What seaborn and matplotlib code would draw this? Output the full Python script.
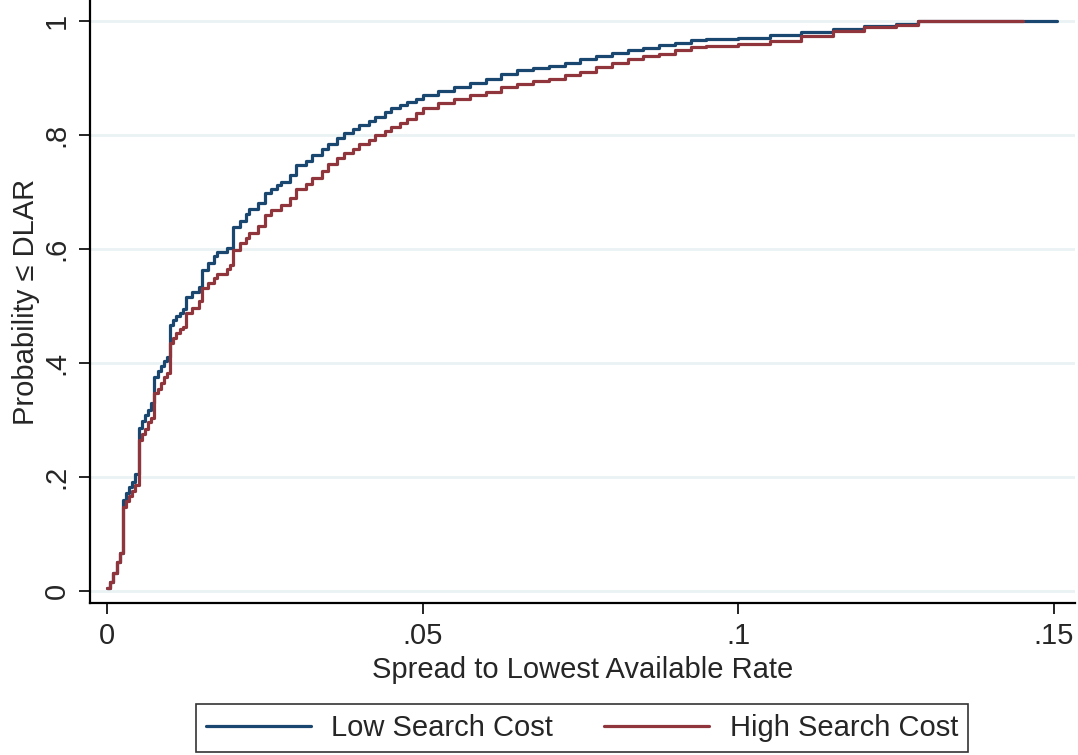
import matplotlib
matplotlib.use("Agg")
import matplotlib.pyplot as plt
import seaborn as sns
import pandas as pd

low_x = [0, 0.0005, 0.001, 0.0015, 0.002, 0.0025, 0.003, 0.0035, 0.004, 0.0045,
         0.005, 0.0055, 0.006, 0.0065, 0.007, 0.0075, 0.008, 0.0085, 0.009, 0.0095,
         0.01, 0.0105, 0.011, 0.0115, 0.012, 0.0125, 0.0135, 0.0145, 0.015, 0.016,
         0.017, 0.0175, 0.019, 0.02, 0.021, 0.022, 0.0225, 0.024, 0.025, 0.026,
         0.027, 0.0275, 0.029, 0.03, 0.0315, 0.0325, 0.034, 0.035, 0.0365, 0.0375,
         0.039, 0.04, 0.0415, 0.0425, 0.044, 0.045, 0.0465, 0.0475, 0.049, 0.05,
         0.0525, 0.055, 0.0575, 0.06, 0.0625, 0.065, 0.0675, 0.07, 0.0725, 0.075,
         0.0775, 0.08, 0.0825, 0.085, 0.0875, 0.09, 0.0925, 0.095, 0.1, 0.105,
         0.11, 0.115, 0.12, 0.125, 0.1285, 0.1506]
low_cdf = [0.005, 0.015, 0.031, 0.051, 0.066, 0.160, 0.172, 0.182, 0.192, 0.206,
           0.286, 0.298, 0.308, 0.318, 0.330, 0.376, 0.386, 0.394, 0.403, 0.411,
           0.467, 0.475, 0.482, 0.488, 0.495, 0.516, 0.525, 0.534, 0.563, 0.575,
           0.588, 0.595, 0.602, 0.639, 0.650, 0.662, 0.671, 0.680, 0.698, 0.705,
           0.712, 0.718, 0.730, 0.747, 0.755, 0.765, 0.775, 0.785, 0.794, 0.803,
           0.810, 0.818, 0.825, 0.832, 0.840, 0.847, 0.853, 0.858, 0.864, 0.871,
           0.877, 0.884, 0.891, 0.899, 0.907, 0.914, 0.918, 0.921, 0.927, 0.933,
           0.938, 0.944, 0.949, 0.953, 0.958, 0.962, 0.966, 0.968, 0.971, 0.976,
           0.981, 0.986, 0.991, 0.995, 1.0, 1.0]

high_x = [0, 0.0005, 0.001, 0.0015, 0.002, 0.0025, 0.003, 0.0035, 0.004, 0.0045,
          0.005, 0.0055, 0.006, 0.0065, 0.007, 0.0075, 0.008, 0.0085, 0.009, 0.0095,
          0.01, 0.0105, 0.011, 0.0115, 0.012, 0.0125, 0.0135, 0.0145, 0.015, 0.016,
          0.017, 0.0175, 0.019, 0.0195, 0.02, 0.021, 0.022, 0.0225, 0.024, 0.025,
          0.026, 0.0275, 0.029, 0.03, 0.0315, 0.0325, 0.034, 0.035, 0.0365, 0.0375,
          0.039, 0.04, 0.0415, 0.0425, 0.044, 0.045, 0.0465, 0.0475, 0.049, 0.05,
          0.0525, 0.055, 0.0575, 0.06, 0.0625, 0.065, 0.0675, 0.07, 0.0725, 0.075,
          0.0775, 0.08, 0.0825, 0.085, 0.0875, 0.09, 0.0925, 0.095, 0.1, 0.105,
          0.11, 0.115, 0.12, 0.125, 0.1285, 0.1452]
high_cdf = [0.005, 0.015, 0.031, 0.051, 0.066, 0.148, 0.158, 0.166, 0.175, 0.186,
            0.265, 0.275, 0.285, 0.296, 0.303, 0.347, 0.355, 0.365, 0.375, 0.382,
            0.435, 0.444, 0.452, 0.460, 0.464, 0.487, 0.496, 0.508, 0.531, 0.540,
            0.549, 0.557, 0.565, 0.572, 0.598, 0.610, 0.620, 0.628, 0.640, 0.660,
            0.668, 0.677, 0.690, 0.706, 0.714, 0.724, 0.737, 0.750, 0.759, 0.768,
            0.776, 0.784, 0.792, 0.800, 0.808, 0.815, 0.822, 0.829, 0.838, 0.847,
            0.857, 0.864, 0.870, 0.876, 0.885, 0.890, 0.895, 0.899, 0.905, 0.911,
            0.919, 0.927, 0.933, 0.938, 0.943, 0.949, 0.954, 0.957, 0.960, 0.965,
            0.974, 0.982, 0.989, 0.994, 1.0, 1.0]

series_names = ["Low Search Cost", "High Search Cost"]
series_colors = ["#1a476f", "#90353b"]

x_ticks = [0, 0.05, 0.1, 0.15]
x_tick_labels = ["0", ".05", ".1", ".15"]
y_ticks = [0, 0.2, 0.4, 0.6, 0.8, 1.0]
y_tick_labels = ["0", ".2", ".4", ".6", ".8", "1"]

df = pd.concat([
    pd.DataFrame({"spread": low_x, "cdf": low_cdf, "group": series_names[0]}),
    pd.DataFrame({"spread": high_x, "cdf": high_cdf, "group": series_names[1]}),
])

sns.set_style("white")
plt.rcParams['font.family'] = ['Liberation Sans', 'DejaVu Sans']
plt.rcParams['font.size'] = 21

fig = plt.figure(figsize=(10.78, 7.55), dpi=100)
ax = fig.add_axes([90 / 1078, 152 / 755, (1075 - 90) / 1078, 603 / 755])

for name, color in zip(series_names, series_colors):
    sub = df[df["group"] == name]
    sns.lineplot(data=sub, x="spread", y="cdf", color=color, linewidth=2.3,
                 drawstyle="steps-post", estimator=None, sort=False,
                 label=name, ax=ax, legend=False)

ax.set_xlim(-0.0027, 0.1534)
ax.set_ylim(-0.021, 1.037)
ax.set_xticks(x_ticks)
ax.set_xticklabels(x_tick_labels)
ax.set_yticks(y_ticks)
ax.set_yticklabels(y_tick_labels, rotation=90, va="center")

ax.grid(axis="y", color="#eaf2f3", linewidth=2)
ax.set_axisbelow(True)
for side in ["top", "right"]:
    ax.spines[side].set_visible(False)
for side in ["left", "bottom"]:
    ax.spines[side].set_color("black")
    ax.spines[side].set_linewidth(1.6)
ax.tick_params(axis="both", direction="out", length=8, width=1.2,
               color="black", labelsize=21, pad=6, left=True, bottom=True)

ax.set_xlabel("Spread to Lowest Available Rate", fontsize=21, labelpad=4)
ax.set_ylabel("Probability \u2264 DLAR", fontsize=21, labelpad=1.5)

handles, labels = ax.get_legend_handles_labels()
leg = fig.legend(handles, labels, loc="lower center", ncol=2,
                 bbox_to_anchor=(582 / 1078, -0.012), frameon=True, fancybox=False,
                 fontsize=21, handlelength=3.6, handletextpad=0.7,
                 columnspacing=1.75, borderpad=0.35, borderaxespad=0.4)
leg.get_frame().set_edgecolor("black")
leg.get_frame().set_linewidth(1.2)

plt.savefig("out.png", dpi=100)
plt.close()
